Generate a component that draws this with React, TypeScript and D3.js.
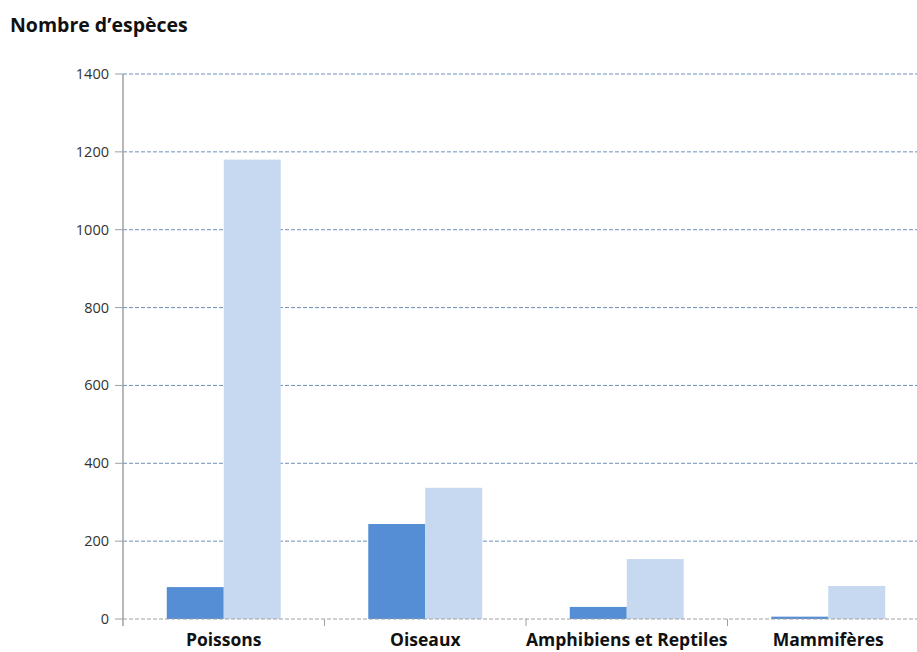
import React from "react";
import * as d3 from "d3";

const categories = ["Poissons", "Oiseaux", "Amphibiens et Reptiles", "Mammifères"];
const seriesNames = ["Série 1", "Série 2"];
const series1 = [82, 244, 31, 6];
const series2 = [1180, 337, 154, 85];
const yTicks = [0, 200, 400, 600, 800, 1000, 1200, 1400];
const colors = ["#558ED5", "#C6D9F1"];

export default function App() {
  const W = 917, H = 652;
  const left = 123, right = 929, top = 74, bottom = 619;
  const x = d3.scaleBand<string>().domain(categories).range([left, right]).padding(0);
  const xs = d3.scaleBand<string>().domain(seriesNames).range([0, x.bandwidth()]).paddingInner(0).paddingOuter(0.768);
  const y = d3.scaleLinear().domain([0, 1400]).range([bottom, top]);
  const data = [series1, series2];
  const font = "'Open Sans', 'DejaVu Sans', sans-serif";

  return (
    <svg width={W} height={H} style={{ position: "absolute", left: 0, top: 0, background: "#fff" }}>
      <text x={10} y={32} fontFamily={font} fontWeight="bold" fontSize={19.5} fill="#111">Nombre d’espèces</text>
      {yTicks.map((t) => (
        <g key={t}>
          {t > 0 && (
            <line x1={left} x2={W} y1={y(t)} y2={y(t)} stroke="#6f8fb5" strokeWidth={1} strokeDasharray="4,2" />
          )}
          <line x1={115} x2={left} y1={y(t)} y2={y(t)} stroke="#a0a0a0" strokeWidth={1} />
          <text x={109} y={y(t) + 5} textAnchor="end" fontFamily={font} fontSize={14.5} fill="#333">{t}</text>
        </g>
      ))}
      {data.map((vals, si) =>
        categories.map((c, ci) => (
          <rect key={`${si}-${ci}`} x={(x(c) as number) + (xs(seriesNames[si]) as number)} width={xs.bandwidth()}
            y={y(vals[ci])} height={bottom - y(vals[ci])} fill={colors[si]} />
        ))
      )}
      <line x1={left} x2={W} y1={bottom} y2={bottom} stroke="#a0a0a0" strokeWidth={1} strokeDasharray="4,2" />
      <line x1={left} x2={left} y1={top} y2={626} stroke="#a0a0a0" strokeWidth={1.5} />
      {categories.slice(1).map((c) => (
        <line key={c} x1={x(c) as number} x2={x(c) as number} y1={bottom} y2={626} stroke="#a0a0a0" strokeWidth={1} />
      ))}
      {categories.map((c) => (
        <text key={c} x={(x(c) as number) + x.bandwidth() / 2} y={646} textAnchor="middle" fontFamily={font} fontWeight="bold" fontSize={17.5} fill="#111">{c}</text>
      ))}
    </svg>
  );
}
